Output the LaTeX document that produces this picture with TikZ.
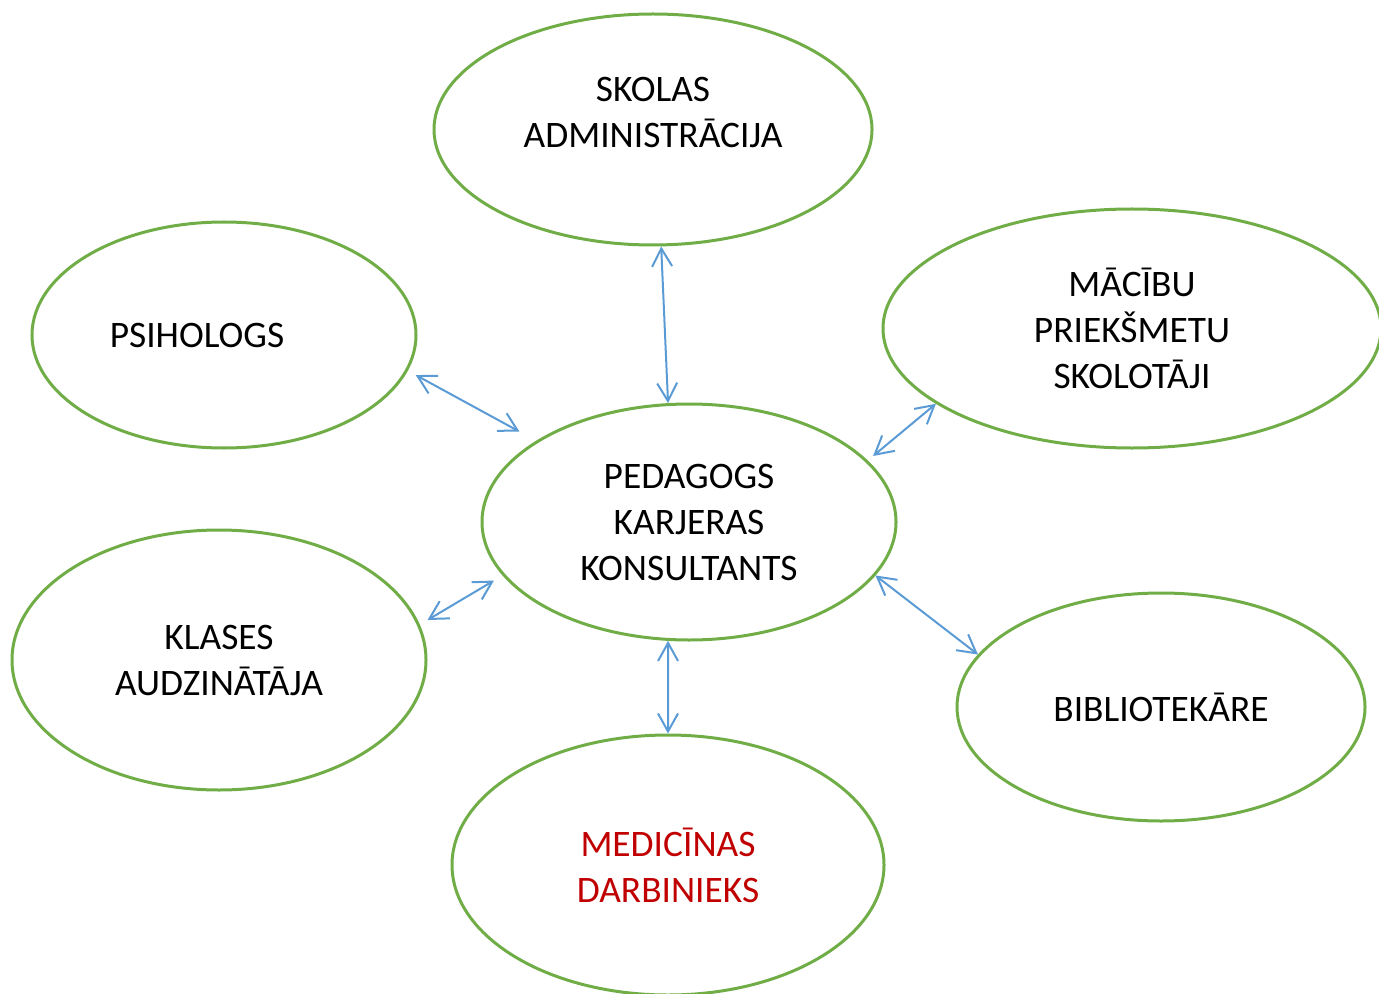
\documentclass[tikz,border=0pt]{standalone}
\usepackage{fontspec}
\setmainfont{Carlito}
\usetikzlibrary{shapes,arrows.meta}
\definecolor{ringgreen}{RGB}{112,173,71}
\definecolor{linkblue}{RGB}{91,155,213}
\definecolor{alertred}{RGB}{192,0,0}
\tikzstyle{bubble}=[ellipse,draw=ringgreen,line width=1.5pt,inner sep=0pt,align=center]
\tikzstyle{link}=[draw,linkblue,line width=1pt,{Straight Barb[length=9pt,width=10pt]}-{Straight Barb[length=9pt,width=10pt]}]

\begin{document}
\begin{tikzpicture}[x=0.5pt,y=-0.5pt,font=\fontsize{18.7}{23}\selectfont]
    \useasboundingbox (0,0) rectangle (1379,994);

    % the ring of partners round the consultant
    \node[bubble,minimum width=219pt,minimum height=115.5pt,
        label={[align=center,yshift=8.75pt]center:SKOLAS\\ADMINISTRĀCIJA}] (adm) at (653,129.5) {};
    \node[bubble,minimum width=192pt,minimum height=113pt,
        label={[xshift=-13.5pt]center:PSIHOLOGS}] (psih) at (224,335) {};
    \node[bubble,minimum width=249pt,minimum height=119.5pt] (sk) at (1132,328.5) {MĀCĪBU\\PRIEKŠMETU\\SKOLOTĀJI};
    \node[bubble,minimum width=207pt,minimum height=118pt] (ped) at (689,522) {PEDAGOGS\\KARJERAS\\KONSULTANTS};
    \node[bubble,minimum width=207pt,minimum height=130pt] (kl) at (219,660) {KLASES\\AUDZINĀTĀJA};
    \node[bubble,minimum width=204pt,minimum height=114pt] (bib) at (1161,707) {BIBLIOTEKĀRE};
    \node[bubble,minimum width=216pt,minimum height=130pt,text=alertred] (med) at (668,865) {MEDICĪNAS\\DARBINIEKS};

    % two-way links
    \foreach \source/ \dest/ \gapa/ \gapb in {adm.-86/ped.100.6/0/0, psih.-11/ped.152.4/4.5/9.5,
        sk.201.3/ped.19.2/0/3.5, kl.10.4/ped.196/4.5/5, ped.-16.9/bib.164/0/0, ped.-100.6/med.90/0/0}
        \path[link,shorten <=\gapa pt,shorten >=\gapb pt] (\source) -- (\dest);

\end{tikzpicture}
\end{document}
